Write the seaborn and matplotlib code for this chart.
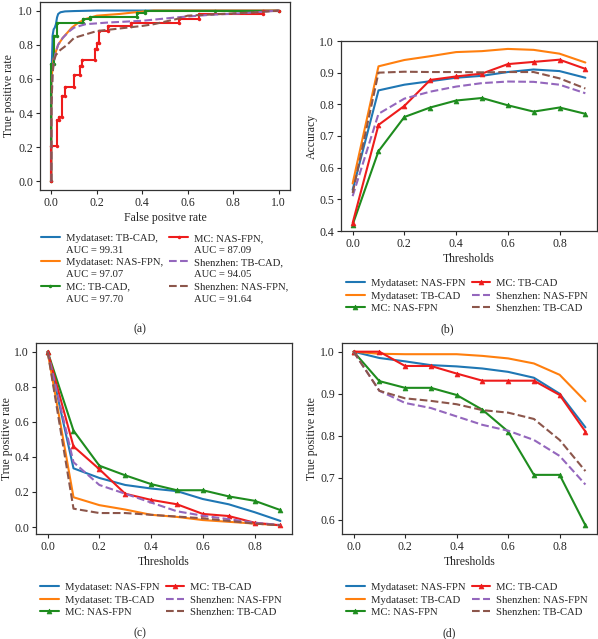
import numpy as np
import pandas as pd
import matplotlib
matplotlib.use("Agg")
import matplotlib.pyplot as plt
from matplotlib.lines import Line2D
import seaborn as sns

sns.set_theme(style="ticks")
plt.rcParams['font.family'] = ['Liberation Serif', 'DejaVu Serif']
plt.rcParams['font.size'] = 8.5

BLUE, ORANGE, GREEN, RED, PURPLE, BROWN = "#1f77b4", "#ff7f0e", "#1e8c1e", "#ee1c1c", "#9467bd", "#8c564b"

# ---------- (a) ROC data ----------
roc_my_tb_fpr = [0, 0, 0.005, 0.005, 0.01, 0.015, 0.02, 0.025, 0.03, 0.04, 0.06, 0.1, 0.2, 1.0]
roc_my_tb_tpr = [0, 0.6, 0.82, 0.85, 0.89, 0.9, 0.92, 0.96, 0.98, 0.99, 0.995, 0.997, 1.0, 1.0]
roc_my_nas_fpr = [0, 0, 0.01, 0.02, 0.03, 0.05, 0.07, 0.09, 0.12, 0.15, 0.2, 0.3, 0.37, 0.45, 1.0]
roc_my_nas_tpr = [0, 0.6, 0.72, 0.76, 0.8, 0.84, 0.87, 0.9, 0.93, 0.95, 0.97, 0.98, 0.99, 1.0, 1.0]
roc_mc_tb_fpr = [0, 0, 0.01, 0.01, 0.025, 0.025, 0.14, 0.14, 0.17, 0.17, 0.375, 0.375, 0.41, 0.41, 0.72, 1.0]
roc_mc_tb_tpr = [0, 0.69, 0.69, 0.85, 0.85, 0.93, 0.93, 0.95, 0.95, 0.965, 0.965, 0.985, 0.985, 1.0, 1.0, 1.0]
roc_mc_nas_fpr = [0, 0, 0.025, 0.025, 0.035, 0.035, 0.048, 0.048, 0.06, 0.06, 0.1, 0.1, 0.125, 0.125,
                  0.135, 0.135, 0.19, 0.19, 0.2, 0.2, 0.21, 0.21, 0.25, 0.25, 0.35, 0.35, 0.56, 0.56,
                  0.65, 0.65, 0.93, 0.93, 1.0]
roc_mc_nas_tpr = [0, 0.21, 0.21, 0.36, 0.36, 0.38, 0.38, 0.5, 0.5, 0.55, 0.55, 0.62, 0.62, 0.675,
                  0.675, 0.71, 0.71, 0.775, 0.775, 0.81, 0.81, 0.88, 0.88, 0.91, 0.91, 0.925, 0.925, 0.95,
                  0.95, 0.98, 0.98, 1.0, 1.0]
roc_sz_tb_fpr = [0, 0, 0.005, 0.01, 0.02, 0.03, 0.05, 0.08, 0.1, 0.15, 0.25, 0.4, 0.55, 0.7, 0.85, 1.0]
roc_sz_tb_tpr = [0, 0.43, 0.62, 0.7, 0.76, 0.8, 0.84, 0.88, 0.9, 0.92, 0.93, 0.94, 0.96, 0.975, 0.985, 1.0]
roc_sz_nas_fpr = [0, 0, 0.005, 0.01, 0.02, 0.04, 0.07, 0.1, 0.15, 0.2, 0.3, 0.4, 0.45, 0.55, 0.6, 0.75, 0.9, 1.0]
roc_sz_nas_tpr = [0, 0.43, 0.62, 0.7, 0.74, 0.77, 0.8, 0.84, 0.86, 0.88, 0.895, 0.91, 0.92, 0.95, 0.97, 0.98, 0.99, 1.0]

roc_names = ["Mydataset: TB-CAD,", "Mydataset: NAS-FPN,", "MC: TB-CAD,",
             "MC: NAS-FPN,", "Shenzhen: TB-CAD,", "Shenzhen: NAS-FPN,"]
roc_auc = ["AUC = 99.31", "AUC = 97.07", "AUC = 97.70", "AUC = 87.09", "AUC = 94.05", "AUC = 91.64"]

# ---------- threshold data ----------
thresholds = [0.0, 0.1, 0.2, 0.3, 0.4, 0.5, 0.6, 0.7, 0.8, 0.9]

acc_my_nas = [0.53, 0.844, 0.862, 0.873, 0.884, 0.89, 0.902, 0.91, 0.905, 0.884]
acc_my_tb = [0.55, 0.92, 0.94, 0.952, 0.965, 0.968, 0.975, 0.972, 0.96, 0.932]
acc_mc_nas = [0.42, 0.652, 0.76, 0.79, 0.812, 0.82, 0.797, 0.777, 0.79, 0.77]
acc_mc_tb = [0.425, 0.735, 0.795, 0.877, 0.888, 0.897, 0.927, 0.934, 0.941, 0.912]
acc_sz_nas = [0.51, 0.77, 0.818, 0.84, 0.856, 0.867, 0.872, 0.871, 0.862, 0.835]
acc_sz_tb = [0.52, 0.9, 0.903, 0.902, 0.902, 0.901, 0.902, 0.902, 0.882, 0.85]

c_my_nas = [1.0, 0.335, 0.28, 0.24, 0.22, 0.205, 0.16, 0.13, 0.085, 0.035]
c_my_tb = [1.0, 0.17, 0.125, 0.1, 0.07, 0.058, 0.04, 0.03, 0.02, 0.01]
c_mc_nas = [1.0, 0.55, 0.35, 0.295, 0.245, 0.21, 0.21, 0.175, 0.15, 0.097]
c_mc_tb = [1.0, 0.46, 0.33, 0.19, 0.155, 0.13, 0.075, 0.063, 0.025, 0.01]
c_sz_nas = [1.0, 0.37, 0.24, 0.19, 0.14, 0.09, 0.065, 0.045, 0.025, 0.012]
c_sz_tb = [1.0, 0.105, 0.08, 0.08, 0.07, 0.06, 0.05, 0.035, 0.02, 0.01]

d_my_nas = [1.0, 0.985, 0.977, 0.968, 0.965, 0.96, 0.952, 0.938, 0.9, 0.82]
d_my_tb = [1.0, 0.995, 0.994, 0.994, 0.994, 0.99, 0.984, 0.972, 0.945, 0.882]
d_mc_nas = [1.0, 0.93, 0.914, 0.914, 0.897, 0.862, 0.81, 0.707, 0.707, 0.587]
d_mc_tb = [1.0, 1.0, 0.966, 0.966, 0.948, 0.931, 0.931, 0.931, 0.897, 0.81]
d_sz_nas = [1.0, 0.907, 0.878, 0.866, 0.846, 0.826, 0.812, 0.79, 0.752, 0.684]
d_sz_tb = [1.0, 0.907, 0.889, 0.883, 0.875, 0.861, 0.855, 0.84, 0.79, 0.716]

thr_labels = ["Mydataset: NAS-FPN", "Mydataset: TB-CAD", "MC: NAS-FPN",
              "MC: TB-CAD", "Shenzhen: NAS-FPN", "Shenzhen: TB-CAD"]

W, H = 598, 639
fig = plt.figure(figsize=(W / 100, H / 100), dpi=100)
FS = 8.5
LFS = 7.7


def axpos(l, r, t, b):
    return [l / W, 1 - b / H, (r - l) / W, (b - t) / H]


def style_ax(ax, left_px, label_px):
    for s in ax.spines.values():
        s.set_visible(True)
        s.set_linewidth(0.9)
        s.set_color("#333333")
    ax.tick_params(labelsize=FS, length=3, width=0.8, pad=2)
    bb = ax.get_position()
    ax.yaxis.set_label_coords((label_px - left_px) / (bb.width * W), 0.5)


LEGKW = dict(frameon=False, fontsize=LFS, handlelength=1.7, columnspacing=0.6,
             labelspacing=0.25, handletextpad=0.6, borderpad=0.0)

# (a)
axa = fig.add_axes(axpos(40, 290, 2, 190))
roc_series = [
    (roc_my_tb_fpr, roc_my_tb_tpr, BLUE, "-", None),
    (roc_my_nas_fpr, roc_my_nas_tpr, ORANGE, "-", None),
    (roc_mc_tb_fpr, roc_mc_tb_tpr, GREEN, "-", "."),
    (roc_mc_nas_fpr, roc_mc_nas_tpr, RED, "-", "."),
    (roc_sz_tb_fpr, roc_sz_tb_tpr, PURPLE, "--", None),
    (roc_sz_nas_fpr, roc_sz_nas_tpr, BROWN, "--", None),
]
for (fx, ty, col, ls, mk), lab in zip(roc_series, roc_names):
    sns.lineplot(x=fx, y=ty, ax=axa, color=col, linestyle=ls, marker=mk, markersize=5,
                 markeredgewidth=0, sort=False, estimator=None, lw=1.5, label=lab)
axa.set_xlabel("False positve rate", fontsize=FS, labelpad=2)
axa.set_ylabel("True positive rate", fontsize=FS)
style_ax(axa, 40, 15)
h, l = axa.get_legend_handles_labels()
axa.get_legend().remove()
hh, ll = [], []
for hi, li, ai in zip(h, l, roc_auc):
    hh += [hi, Line2D([], [], color="none")]
    ll += [li, ai]
fig.legend(hh, ll, ncol=2, loc="upper left", bbox_to_anchor=(36 / W, 1 - 228 / H), **LEGKW)
fig.text(140 / W, 1 - 329 / H, "(a)", ha="center", va="center", fontsize=FS)


def thr_panel(box, series, ylabel, cap_xy, leg_xy, label_px, ylim=None):
    ax = fig.add_axes(axpos(*box))
    cols = [BLUE, ORANGE, GREEN, RED, PURPLE, BROWN]
    lss = ["-", "-", "-", "-", "--", "--"]
    mks = [None, None, "^", "^", None, None]
    for ys, col, ls, mk, lab in zip(series, cols, lss, mks, thr_labels):
        sns.lineplot(x=thresholds, y=ys, ax=ax, color=col, linestyle=ls, marker=mk, markersize=3.5,
                     markeredgewidth=0.5, markeredgecolor=col, lw=1.5, label=lab)
    if ylim:
        ax.set_ylim(*ylim)
    ax.set_xlabel("Thresholds", fontsize=FS, labelpad=2)
    ax.set_ylabel(ylabel, fontsize=FS)
    style_ax(ax, box[0], label_px)
    h, l = ax.get_legend_handles_labels()
    ax.get_legend().remove()
    fig.legend(h, l, ncol=2, loc="upper left", bbox_to_anchor=(leg_xy[0] / W, 1 - leg_xy[1] / H),
               **dict(LEGKW, labelspacing=0.3))
    fig.text(cap_xy[0] / W, 1 - cap_xy[1] / H, cap_xy[2], ha="center", va="center", fontsize=FS)
    return ax


thr_panel((341, 597, 41, 231), [acc_my_nas, acc_my_tb, acc_mc_nas, acc_mc_tb, acc_sz_nas, acc_sz_tb],
          "Accuracy", (447, 329, "(b)"), (341, 273), 318, ylim=(0.4, 1.0))
thr_panel((36, 292, 343, 534), [c_my_nas, c_my_tb, c_mc_nas, c_mc_tb, c_sz_nas, c_sz_tb],
          "True positive rate", (140, 633, "(c)"), (35, 577), 13)
thr_panel((342, 597, 343, 534), [d_my_nas, d_my_tb, d_mc_nas, d_mc_tb, d_sz_nas, d_sz_tb],
          "True positive rate", (449, 633, "(d)"), (341, 577), 318)

fig.savefig("out.png", dpi=100)
